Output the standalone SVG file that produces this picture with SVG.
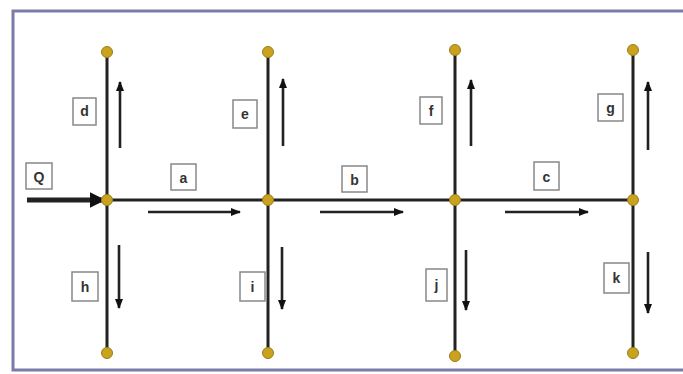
<svg xmlns="http://www.w3.org/2000/svg" width="683" height="374" viewBox="0 0 683 374">
<defs>
<marker id="ah" viewBox="0 0 10 10" refX="9" refY="5" markerWidth="4" markerHeight="4" orient="auto" markerUnits="strokeWidth"><path d="M0,1 L10,5 L0,9 z" fill="#111"/></marker>
<marker id="big" viewBox="0 0 10 10" refX="9" refY="5" markerWidth="3.2" markerHeight="3.2" orient="auto" markerUnits="strokeWidth"><path d="M0,0 L10,5 L0,10 z" fill="#111"/></marker>
<style>
.pipe{stroke:#222;stroke-width:3;fill:none}
.flow{stroke:#222;stroke-width:2.6;fill:none;marker-end:url(#ah)}
.node{fill:#c9a21e;stroke:#9c7d16;stroke-width:1}
.lbl rect{fill:#fff;stroke:#888;stroke-width:1.5}
.lbl text{font-family:"Liberation Sans",Arial,sans-serif;font-size:14px;font-weight:bold;fill:#333;text-anchor:middle}
</style>
</defs>
<rect x="0" y="0" width="683" height="374" fill="#fff"/>
<path d="M700,11 L13,11 L13,370 L700,370" fill="none" stroke="#7b7ba8" stroke-width="3"/>
<g id="connectors">
<line class="pipe" x1="107" y1="200" x2="633" y2="200"/>
<line class="pipe" x1="107" y1="52" x2="107" y2="353"/>
<line class="pipe" x1="268" y1="52" x2="268" y2="353"/>
<line class="pipe" x1="455" y1="52" x2="455" y2="355"/>
<line class="pipe" x1="633" y1="52" x2="633" y2="353"/>
<line x1="27" y1="200" x2="104" y2="200" stroke="#222" stroke-width="5" marker-end="url(#big)"/>
<line class="flow" x1="148" y1="212" x2="240" y2="212"/>
<line class="flow" x1="320" y1="212" x2="403" y2="212"/>
<line class="flow" x1="505" y1="212" x2="588" y2="212"/>
<line class="flow" x1="120" y1="148" x2="120" y2="82"/>
<line class="flow" x1="283" y1="146" x2="283" y2="79"/>
<line class="flow" x1="471" y1="146" x2="471" y2="80"/>
<line class="flow" x1="648" y1="150" x2="648" y2="82"/>
<line class="flow" x1="119" y1="245" x2="119" y2="308"/>
<line class="flow" x1="282" y1="247" x2="282" y2="309"/>
<line class="flow" x1="466" y1="250" x2="466" y2="310"/>
<line class="flow" x1="648" y1="252" x2="648" y2="313"/>
</g>
<g id="n1"><circle class="node" cx="107" cy="52" r="5.5"/></g>
<g id="n2"><circle class="node" cx="268" cy="52" r="5.5"/></g>
<g id="n3"><circle class="node" cx="455" cy="50" r="5.5"/></g>
<g id="n4"><circle class="node" cx="633" cy="50" r="5.5"/></g>
<g id="n5"><circle class="node" cx="107" cy="200" r="5.5"/></g>
<g id="n6"><circle class="node" cx="268" cy="200" r="5.5"/></g>
<g id="n7"><circle class="node" cx="455" cy="200" r="5.5"/></g>
<g id="n8"><circle class="node" cx="633" cy="200" r="5.5"/></g>
<g id="n9"><circle class="node" cx="107" cy="353" r="5.5"/></g>
<g id="n10"><circle class="node" cx="268" cy="353" r="5.5"/></g>
<g id="n11"><circle class="node" cx="455" cy="356" r="5.5"/></g>
<g id="n12"><circle class="node" cx="633" cy="353" r="5.5"/></g>
<g id="lQ" class="lbl"><rect x="26" y="163" width="26" height="26"/><text x="39" y="182">Q</text></g>
<g id="la" class="lbl"><rect x="171" y="164" width="25" height="26"/><text x="183.5" y="183">a</text></g>
<g id="lb" class="lbl"><rect x="342" y="166" width="25" height="26"/><text x="354.5" y="185">b</text></g>
<g id="lc" class="lbl"><rect x="534" y="162" width="25" height="28"/><text x="546.5" y="182">c</text></g>
<g id="ld" class="lbl"><rect x="73" y="98" width="23" height="27"/><text x="84.5" y="116">d</text></g>
<g id="le" class="lbl"><rect x="233" y="100" width="24" height="28"/><text x="245" y="119">e</text></g>
<g id="lf" class="lbl"><rect x="420" y="97" width="22" height="27"/><text x="431" y="116">f</text></g>
<g id="lg" class="lbl"><rect x="598" y="94" width="25" height="27"/><text x="610.5" y="113">g</text></g>
<g id="lh" class="lbl"><rect x="72" y="272" width="26" height="29"/><text x="85" y="292">h</text></g>
<g id="li" class="lbl"><rect x="240" y="272" width="25" height="29"/><text x="252.5" y="292">i</text></g>
<g id="lj" class="lbl"><rect x="426" y="269" width="21" height="32"/><text x="436.5" y="290">j</text></g>
<g id="lk" class="lbl"><rect x="604" y="263" width="25" height="30"/><text x="616.5" y="283">k</text></g>
</svg>
